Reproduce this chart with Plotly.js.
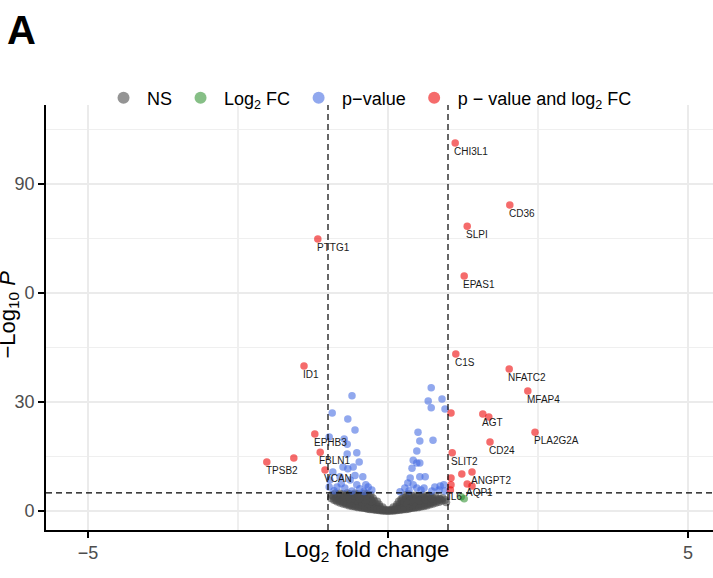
<!DOCTYPE html>
<html>
<head>
<meta charset="utf-8">
<script src="https://cdn.plot.ly/plotly-3.0.1.min.js"></script>
<style>html,body{margin:0;padding:0;background:#fff;}#chart{width:713px;height:578px;}</style>
</head>
<body>
<div id="chart"></div>
<script>
// ---- data ----
// NS (grey) points
const nsX = [-0.95,-0.94,-0.9,-0.91,-0.88,-0.85,-0.86,-0.84,-0.8,-0.81,-0.79,-0.8,-0.75,-0.76,-0.74,-0.75,-0.7,-0.71,-0.69,-0.7,-0.68,-0.65,-0.66,-0.64,-0.65,-0.63,-0.6,-0.61,-0.59,-0.6,-0.58,-0.55,-0.56,-0.54,-0.55,-0.53,-0.55,-0.5,-0.51,-0.49,-0.5,-0.48,-0.5,-0.45,-0.46,-0.44,-0.45,-0.43,-0.45,-0.4,-0.41,-0.39,-0.4,-0.38,-0.4,-0.39,-0.35,-0.36,-0.34,-0.35,-0.33,-0.35,-0.34,-0.3,-0.31,-0.29,-0.3,-0.28,-0.3,-0.29,-0.25,-0.26,-0.24,-0.25,-0.23,-0.25,-0.2,-0.21,-0.19,-0.2,-0.18,-0.15,-0.16,-0.14,-0.15,-0.1,-0.11,-0.09,-0.05,-0.06,0,0,
  -0.875,-0.825,-0.775,-0.725,-0.675,-0.625,-0.575,-0.525,-0.475,-0.425,-0.375,-0.325,-0.275,-0.225,-0.175,-0.125,-0.075,-0.025,-0.725,-0.625,-0.525,-0.425,-0.325,-0.275,-0.375,-0.475,-0.575,-0.675,
  0.05,0.06,0.1,0.11,0.09,0.15,0.16,0.14,0.15,0.2,0.21,0.19,0.2,0.18,0.22,0.25,0.26,0.24,0.25,0.23,0.25,0.3,0.31,0.29,0.3,0.28,0.3,0.29,0.35,0.36,0.34,0.35,0.33,0.35,0.34,0.4,0.41,0.39,0.4,0.38,0.4,0.45,0.46,0.44,0.45,0.43,0.45,0.5,0.51,0.49,0.5,0.48,0.55,0.56,0.54,0.55,0.53,0.6,0.61,0.59,0.6,0.58,0.65,0.66,0.64,0.65,0.7,0.71,0.69,0.7,0.75,0.76,0.74,0.8,0.81,0.79,0.85,0.86,0.9,0.91,0.95,0.97,
  0.025,0.075,0.125,0.175,0.225,0.275,0.325,0.375,0.425,0.475,0.525,0.575,0.625,0.675,0.725,0.775,0.825,0.875,0.275,0.375,0.475,0.575,0.675,0.325,0.425,0.525,0.625,0.725];
const nsY = [3.5,4.4,3.0,4.0,4.8,2.6,3.6,4.5,2.3,3.2,4.1,4.8,2.0,2.8,3.7,4.6,1.8,2.5,3.3,4.2,4.9,1.5,2.2,3.0,3.8,4.6,1.3,2.0,2.8,3.6,4.4,1.2,1.9,2.6,3.3,4.1,4.8,1.0,1.7,2.4,3.1,3.9,4.6,0.9,1.5,2.2,2.9,3.6,4.3,0.8,1.4,2.0,2.7,3.4,4.1,4.8,0.6,1.2,1.8,2.5,3.2,3.9,4.6,0.5,1.1,1.7,2.3,3.0,3.7,4.4,0.4,0.9,1.5,2.1,2.8,3.5,0.3,0.8,1.3,1.9,2.6,0.2,0.7,1.2,1.8,0.1,0.5,1.0,0.1,0.4,0.1,0.3,
  3.1,2.9,2.6,2.3,2.0,1.7,1.5,1.3,1.1,1.0,0.8,0.7,0.6,0.5,0.4,0.3,0.2,0.05,3.9,3.3,2.9,2.5,2.0,2.6,3.0,3.5,4.3,4.5,
  0.1,0.4,0.1,0.5,1.0,0.2,0.7,1.2,1.8,0.3,0.8,1.3,1.9,2.6,3.2,0.4,0.9,1.5,2.1,2.8,3.6,0.5,1.1,1.7,2.3,3.0,3.7,4.4,0.6,1.2,1.8,2.5,3.2,3.9,4.6,0.8,1.4,2.0,2.7,3.4,4.1,0.9,1.5,2.2,2.9,3.6,4.3,1.0,1.7,2.4,3.1,3.9,1.2,1.9,2.6,3.3,4.1,1.3,2.0,2.8,3.6,4.4,1.5,2.2,3.0,3.8,1.8,2.5,3.3,4.2,2.0,2.8,3.7,2.3,3.2,4.1,2.5,3.4,2.8,3.6,3.0,2.4,
  0.05,0.2,0.3,0.4,0.5,0.6,0.7,0.8,1.0,1.1,1.3,1.5,1.7,2.0,2.3,2.6,2.9,3.1,2.4,2.9,3.4,3.9,4.3,2.0,2.5,2.9,3.2,3.5];

// Log2 FC only (green)
const fcX = [1.22, 1.27];
const fcY = [3.9, 3.4];

// p-value only (blue)
const pvX = [-0.6,-0.93,-0.67,-0.55,-0.98,-0.73,-0.68,-0.52,-0.68,-0.48,-0.75,-0.67,-0.58,-0.97,-0.85,-0.72,-0.63,-0.52,-0.42,-0.37,-0.33,-0.98,-0.8,-0.47,-0.27,-0.92,-0.9,-0.6,-0.4,-0.55,-0.78,
  0.72,0.67,0.9,0.72,0.95,0.5,0.53,0.75,0.48,0.42,0.48,0.53,0.4,0.53,0.62,0.37,0.33,0.42,0.6,0.78,0.87,0.93,0.28,0.48,0.73,0.95,0.35,0.2,0.55,0.85];
const pvY = [31.7,27,25.3,22.3,20.4,19.8,18.4,16,15.7,13.5,12.1,11.6,12.1,8.5,6.6,6.3,8.5,7.2,9.4,7.2,6.6,6.6,9.4,6.1,5.8,10.7,5.6,5.5,5.4,9.8,7.5,
  33.9,30.3,30.8,28.4,28.1,21.7,19.3,19.5,16.5,14,13.2,13.2,11.8,9.4,9.4,9.1,7.7,7.2,6.3,6.6,6.9,7.2,6.3,6.3,5.5,5.5,5.6,5.3,5.8,5.8];

// p-value and log2 FC (red), labelled genes
const labGenes = ['PTTG1','ID1','EPHB3','FBLN1','VCAN','TPSB2','CHI3L1','CD36','SLPI','EPAS1','C1S','NFATC2','MFAP4','AGT','PLA2G2A','CD24','SLIT2','ANGPT2','AQP1'];
const labX = [-1.17,-1.4,-1.22,-1.13,-1.05,-2.02,1.12,2.03,1.32,1.27,1.13,2.02,2.33,1.58,2.45,1.7,1.07,1.4,1.32];
const labY = [74.9,39.9,21.2,16.2,11.3,13.5,101.3,84.2,78.4,64.7,43.2,39.1,33.0,26.7,21.7,19.0,16.0,10.7,7.4];
// red, unlabelled
const upX = [-1.57,1.68,1.05,1.23,1.4,1.05,1.05,1.04];
const upY = [14.6,25.9,27.0,10.2,6.9,9.1,7.2,5.8];

// thresholds
const fcCut = 1;
const pCut = 5;

// axis ticks
const xTickVals = [-5, 0, 5];
const xTickText = ['\u22125', '', '5'];
const yTickVals = [0, 30, 60, 90];
const yTickText = ['0', '30', '0', '90'];

// ---- drawing ----
const FONT = 'Liberation Sans, Arial, Helvetica, sans-serif';
const mk = (name, x, y, color, size) => ({
  type: 'scatter', mode: 'markers', name: name, x: x, y: y,
  marker: {color: color, size: size, line: {width: 0}},
  hoverinfo: 'skip'
});

const traces = [
  mk('NS', nsX, nsY, 'rgba(77,77,77,0.6)', 8),
  mk('Log<sub>2</sub> FC', fcX, fcY, 'rgba(34,139,34,0.55)', 7.5),
  mk('p\u2212value', pvX, pvY, 'rgba(65,105,225,0.58)', 7.5),
  mk('p \u2212 value and log<sub>2</sub> FC', labX.concat(upX), labY.concat(upY), 'rgba(238,0,0,0.58)', 7.5)
];

const annotations = [];
labGenes.forEach((g, i) => {
  annotations.push({
    x: labX[i], y: labY[i], xref: 'x', yref: 'y', text: g, showarrow: false,
    xanchor: 'left', yanchor: 'top', xshift: -3, yshift: -1,
    font: {family: FONT, size: 10, color: '#1a1a1a'}
  });
});
// IL6 label on the green point
annotations.push({
  x: fcX[0], y: fcY[0], xref: 'x', yref: 'y', text: 'IL6', showarrow: false,
  xanchor: 'center', yanchor: 'middle', xshift: -6,
  font: {family: FONT, size: 10, color: '#1a1a1a'}
});
// panel letter
annotations.push({
  x: -0.061, y: 1.232, xref: 'paper', yref: 'paper', text: '<b>A</b>', showarrow: false,
  xanchor: 'left', yanchor: 'top', font: {family: FONT, size: 40, color: '#000'}
});
// axis titles
annotations.push({
  x: 0.4805, y: -0.049, xref: 'paper', yref: 'paper', text: 'Log<sub>2</sub> fold change',
  showarrow: false, xanchor: 'center', yanchor: 'middle',
  font: {family: FONT, size: 22, color: '#000'}
});
annotations.push({
  x: -0.056, y: 0.506, xref: 'paper', yref: 'paper', text: '\u2212Log<sub>10</sub> <i>P</i>',
  showarrow: false, xanchor: 'center', yanchor: 'middle', textangle: -90,
  font: {family: FONT, size: 22, color: '#000'}
});

const dashStyle = {color: '#000', width: 1.2, dash: '6px,4px'};
const shapes = [
  {type: 'line', xref: 'x', yref: 'paper', x0: -fcCut, x1: -fcCut, y0: 0, y1: 1, line: dashStyle},
  {type: 'line', xref: 'x', yref: 'paper', x0: fcCut, x1: fcCut, y0: 0, y1: 1, line: dashStyle},
  {type: 'line', xref: 'paper', yref: 'y', x0: 0, x1: 1, y0: pCut, y1: pCut, line: dashStyle}
];

const layout = {
  width: 713, height: 578,
  margin: {l: 46, r: 0, t: 105, b: 48, pad: 0},
  paper_bgcolor: '#fff', plot_bgcolor: '#fff',
  font: {family: FONT, color: '#000'},
  showlegend: true,
  legend: {
    orientation: 'h', x: 0.081, y: 1.06, xanchor: 'left', yanchor: 'top',
    font: {family: FONT, size: 18, color: '#000'},
    itemsizing: 'constant', itemwidth: 37, bgcolor: 'rgba(0,0,0,0)'
  },
  xaxis: {
    range: [-5.7, 5.4167], tickmode: 'array', tickvals: xTickVals, ticktext: xTickText,
    showline: true, linecolor: '#000', linewidth: 1.8, ticks: 'outside', ticklen: 6, tickwidth: 1.8, tickcolor: '#000',
    showgrid: true, gridcolor: '#ebebeb', gridwidth: 2, zeroline: false,
    tickfont: {family: FONT, size: 18, color: '#4d4d4d'},
    minor: {tickmode: 'array', tickvals: [-2.5, 2.5], showgrid: true, gridcolor: '#efefef', gridwidth: 1.5, ticks: ''}
  },
  yaxis: {
    range: [-5.23, 111.75], tickmode: 'array', tickvals: yTickVals, ticktext: yTickText,
    showline: true, linecolor: '#000', linewidth: 1.8, ticks: 'outside', ticklen: 6, tickwidth: 1.8, tickcolor: '#000',
    showgrid: true, gridcolor: '#ebebeb', gridwidth: 2, zeroline: false,
    tickfont: {family: FONT, size: 18, color: '#4d4d4d'},
    minor: {tickmode: 'array', tickvals: [15, 45, 75, 105], showgrid: true, gridcolor: '#efefef', gridwidth: 1.5, ticks: ''}
  },
  annotations: annotations,
  shapes: shapes
};

Plotly.newPlot('chart', traces, layout, {staticPlot: true, displayModeBar: false});
</script>
</body>
</html>
